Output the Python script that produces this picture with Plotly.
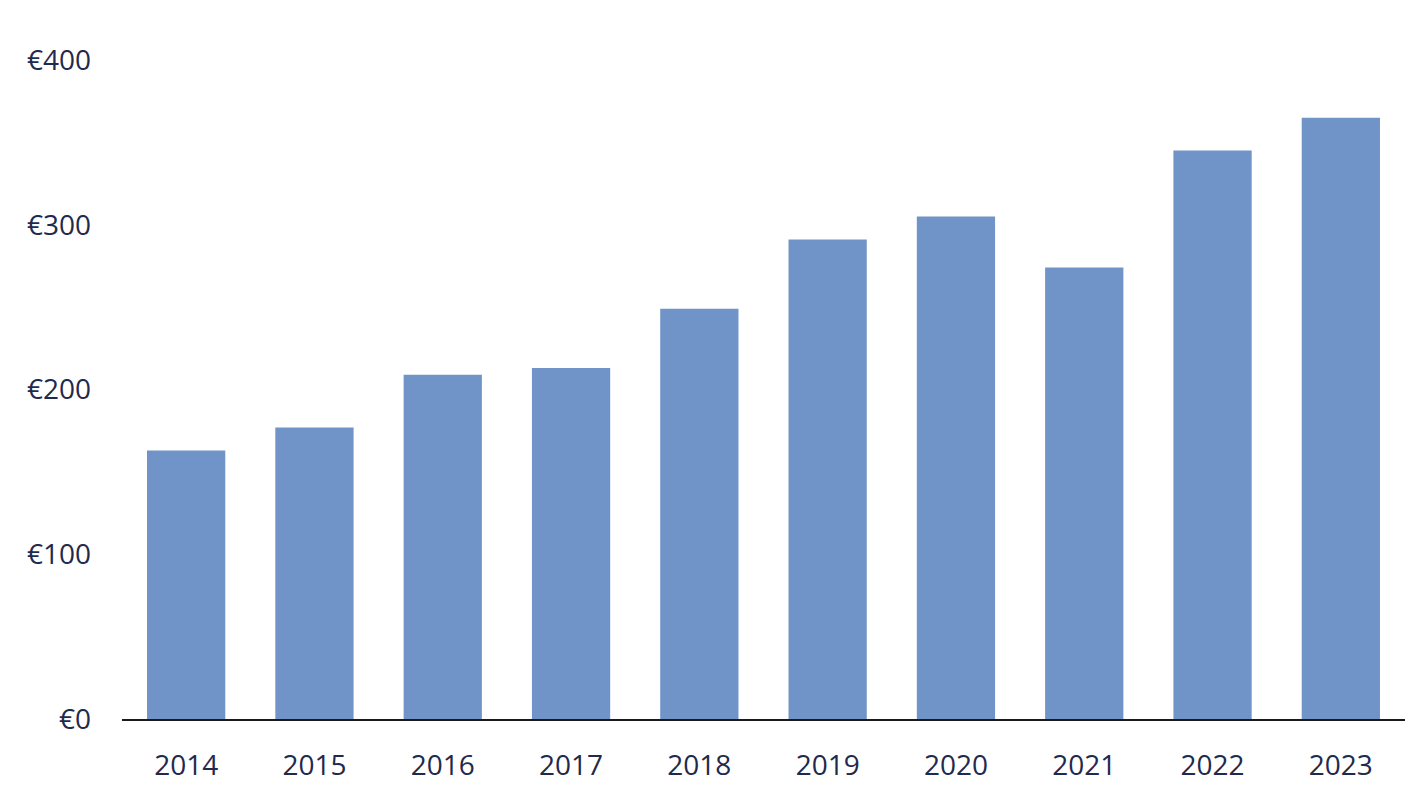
import plotly.graph_objects as go

years = ["2014", "2015", "2016", "2017", "2018", "2019", "2020", "2021", "2022", "2023"]
values = [163, 177, 209, 213, 249, 291, 305, 274, 345, 365]
y_ticks = [0, 100, 200, 300, 400]
y_tick_labels = ["€0", "€100", "€200", "€300", "€400"]

fig = go.Figure(go.Bar(x=years, y=values, marker=dict(color="#7093c8", line=dict(width=0))))

fig.update_layout(
    width=1413, height=804,
    margin=dict(l=114, r=16, t=52, b=93),
    plot_bgcolor="white", paper_bgcolor="white",
    bargap=0.39,
    font=dict(family="Open Sans, Noto Sans, sans-serif", size=28, color="#1f2a4d"),
    showlegend=False,
)
fig.update_xaxes(showline=True, linecolor="#1a1a1a", linewidth=2, ticks="", showgrid=False,
                 tickfont=dict(size=28, color="#1f2a4d"), ticklabelstandoff=20)
fig.update_yaxes(range=[0, 400], tickvals=y_ticks, ticktext=y_tick_labels, showgrid=False,
                 zeroline=False, showline=False, ticks="", tickfont=dict(size=28, color="#1f2a4d"),
                 ticklabelstandoff=30)

fig.write_html("out.html")
